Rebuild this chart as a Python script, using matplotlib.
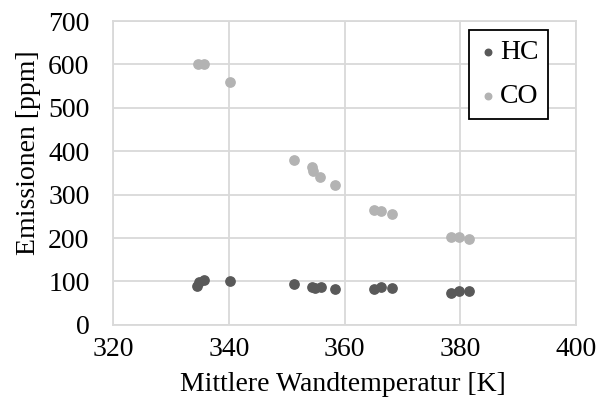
import matplotlib.pyplot as plt

# data
hc_temp = [334.5, 334.9, 335.7, 340.2, 351.3, 354.4, 354.9, 355.9, 358.4,
           365.0, 366.2, 368.2, 378.3, 379.8, 381.5]
hc_ppm = [89, 99, 103, 102, 93, 87, 85, 86, 83, 83, 86, 84, 73, 77, 78]

co_temp = [334.6, 335.6, 340.2, 351.3, 354.4, 354.6, 355.8, 358.4,
           365.0, 366.2, 368.2, 378.3, 379.8, 381.5]
co_ppm = [600, 602, 559, 379, 364, 355, 340, 323, 265, 262, 255, 203, 203, 197]

x_ticks = [320, 340, 360, 380, 400]
y_ticks = [0, 100, 200, 300, 400, 500, 600, 700]

plt.rcParams['font.family'] = ['Liberation Serif', 'DejaVu Serif']
plt.rcParams['font.size'] = 20

fig = plt.figure(figsize=(5.99, 4.05), dpi=100)
ax = fig.add_axes([0.189, 0.198, 0.773, 0.750])

ax.scatter(hc_temp, hc_ppm, s=45, color='#595959', label='HC', zorder=3)
ax.scatter(co_temp, co_ppm, s=45, color='#b3b3b3', label='CO', zorder=3)

ax.set_xlim(320, 400)
ax.set_ylim(0, 700)
ax.set_xticks(x_ticks)
ax.set_yticks(y_ticks)
ax.grid(True, color='#d9d9d9', linewidth=1.3)
ax.set_axisbelow(True)
for sp in ax.spines.values():
    sp.set_color('#d9d9d9')
    sp.set_linewidth(1.3)
ax.tick_params(axis='y', length=0, pad=17, colors='black')
ax.tick_params(axis='x', length=0, pad=9, colors='black')

ax.set_xlabel('Mittlere Wandtemperatur [K]')
ax.xaxis.set_label_coords(0.497, -0.157)
ax.set_ylabel('Emissionen [ppm]', va='center')
ax.yaxis.set_label_coords(-0.183, 0.566)

leg = ax.legend(loc='upper right', bbox_to_anchor=(0.9395, 0.970),
                borderaxespad=0, frameon=True, fancybox=False,
                edgecolor='black', framealpha=1, handletextpad=0.12,
                borderpad=0.35, labelspacing=0.65, handlelength=0.65,
                markerscale=0.7)
leg.get_frame().set_linewidth(1.3)

fig.savefig('out.png', dpi=100)
